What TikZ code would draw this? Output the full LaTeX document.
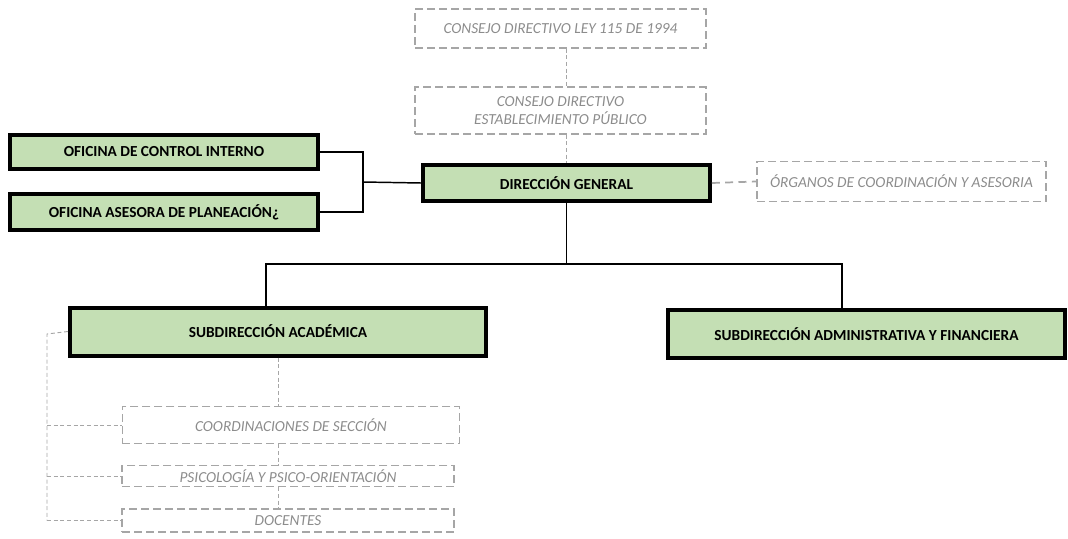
\documentclass[tikz,border=0pt]{standalone}
\usepackage{fontspec}
\setmainfont{Carlito}
\usetikzlibrary{positioning}
\definecolor{boxgreen}{HTML}{C4DFB4}
\definecolor{lightgray}{HTML}{A6A6A6}
\definecolor{textgray}{HTML}{8C8C8C}
\tikzset{
  unit/.style={draw=black, line width=3pt, fill=boxgreen, font=\bfseries\fontsize{11.5}{13}\selectfont, inner sep=0pt},
  aux/.style={draw=lightgray, line width=1.1pt, dash pattern=on 6pt off 3pt, font=\itshape\fontsize{11.5}{14}\selectfont, text=textgray, inner sep=0pt, align=center},
  link/.style={line width=1.1pt},
  dotlink/.style={draw=lightgray, line width=0.7pt, dash pattern=on 3pt off 2pt}
}

\begin{document}
\begin{tikzpicture}[x=0.75pt, y=-0.75pt]
  \useasboundingbox (0,0) rectangle (1068,539);
  % upper council boxes
  \node[aux, minimum width=218pt, minimum height=29pt] (ley) at (560.5,28.5) {CONSEJO DIRECTIVO LEY 115 DE 1994};
  \node[aux, minimum width=218pt, minimum height=35pt] (est) at (560.5,110.5) {CONSEJO DIRECTIVO\\ESTABLECIMIENTO PÚBLICO};
  % main unit
  \node[unit, minimum width=215pt, minimum height=27pt] (dg) at (566.5,183) {DIRECCIÓN GENERAL};
  \node[aux, minimum width=217pt, minimum height=30pt] (org) at (901.5,181.5) {ÓRGANOS DE COORDINACIÓN Y ASESORIA};
  % offices on the left
  \node[unit, minimum width=231pt, minimum height=25pt] (oci) at (164,152) {OFICINA DE CONTROL INTERNO};
  \node[unit, minimum width=231pt, minimum height=27pt] (oap) at (164,212) {OFICINA ASESORA DE PLANEACIÓN¿};
  % subdirections
  \node[unit, minimum width=312pt, minimum height=36pt] (sa) at (278,331.5) {SUBDIRECCIÓN ACADÉMICA};
  \node[unit, minimum width=298pt, minimum height=36pt] (saf) at (866.5,334) {SUBDIRECCIÓN ADMINISTRATIVA Y FINANCIERA};
  % academic units
  \node[aux, minimum width=253pt, minimum height=28pt] (coord) at (291,425) {COORDINACIONES DE SECCIÓN};
  \node[aux, minimum width=249pt, minimum height=16pt] (psi) at (288,476) {PSICOLOGÍA Y PSICO-ORIENTACIÓN};
  \node[aux, minimum width=249pt, minimum height=17pt] (doc) at (288,520.5) {DOCENTES};

  \coordinate (br) at (363,182);
  \coordinate (busL) at (266,264);
  \coordinate (busR) at (842,264);
  \coordinate (rail) at (47,334);

  % solid connectors
  \draw[link] (oci.east) -| (br) |- (oap.east);
  \draw[link] (br) -- (dg.west);
  \draw[link] (dg.south) -- (dg.south |- busL);
  \draw[link] (busL |- sa.north) -- (busL) -- (busR) -- (busR |- saf.north);

  % dashed connectors
  \draw[dotlink] (ley.south -| dg.north) -- (est.north -| dg.north);
  \draw[dotlink] (est.south -| dg.north) -- (dg.north);
  \draw[draw=lightgray, line width=1.3pt, dash pattern=on 6pt off 4pt] (dg.east) -- (org.west);
  \draw[dotlink] (sa.south) -- (sa.south |- coord.north);
  \draw[dotlink] (coord.south -| sa.south) -- (psi.north -| sa.south);
  \draw[dotlink] (psi.south -| sa.south) -- (doc.north -| sa.south);
  \draw[dotlink] (sa.west) -- (rail) -- (rail |- doc.west);
  \foreach \n in {coord,psi,doc}
    \draw[dotlink] (rail |- \n.west) -- (\n.west);
\end{tikzpicture}
\end{document}
